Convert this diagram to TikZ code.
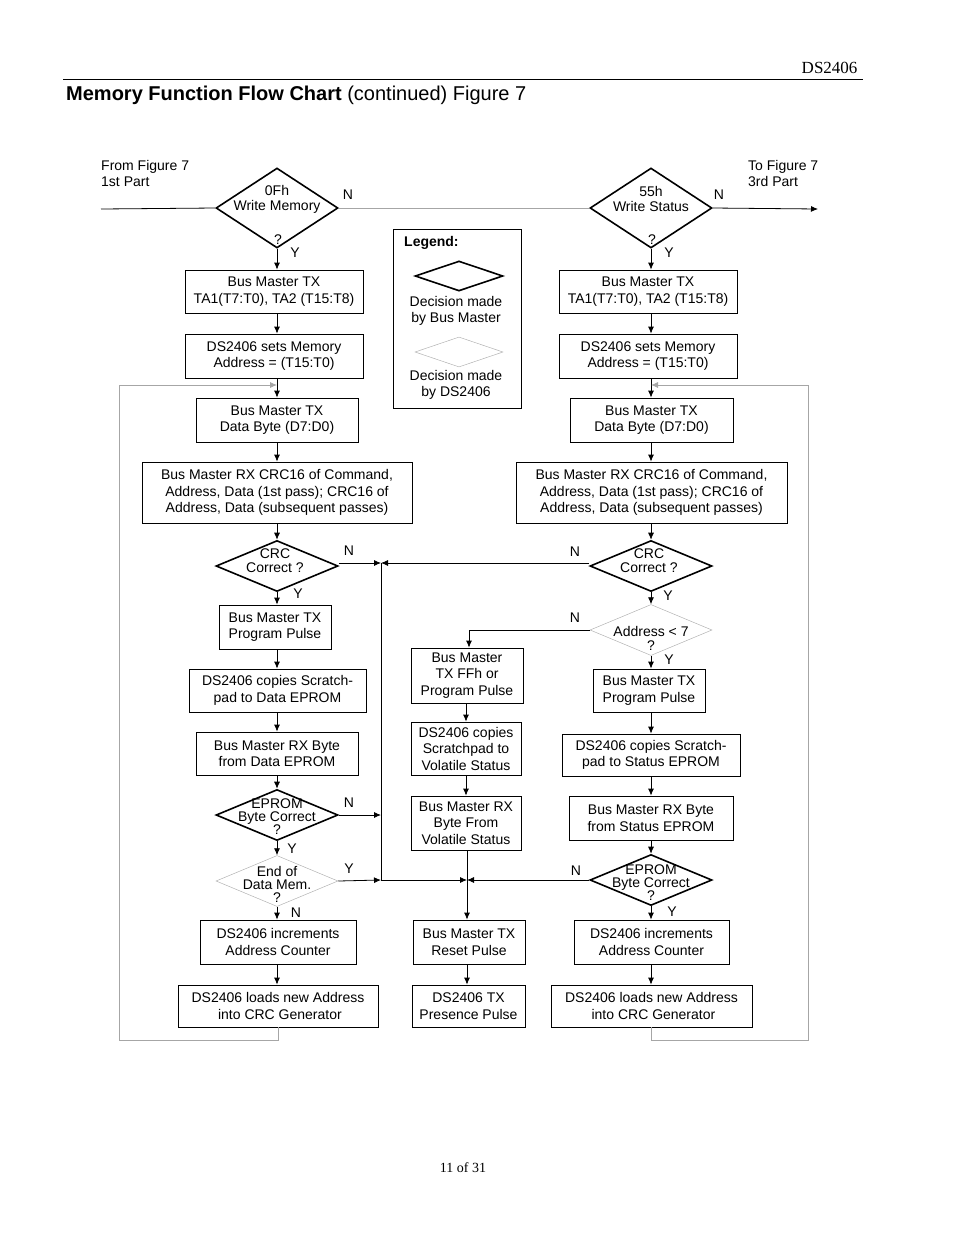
\documentclass[tikz,border=0pt]{standalone}
\usepackage{fontspec}
\setmainfont{Liberation Sans}
\newfontfamily\serifpage{Liberation Serif}
\usetikzlibrary{shapes.geometric,arrows.meta}

\tikzset{
  box/.style={draw, rectangle, line width=0.8pt, align=center, inner sep=1pt,
    font=\fontsize{14}{16.5}\selectfont},
  dec/.style={draw, diamond, line width=1.6pt, inner sep=0pt,
    minimum width=122pt, minimum height=51pt},
  dsdec/.style={dec, line width=0.5pt, draw=gray!60},
  dtext/.style={align=center, inner sep=0pt, font=\fontsize{14}{13}\selectfont},
  lab/.style={inner sep=0pt, font=\fontsize{14}{16}\selectfont},
  arr/.style={-{Latex[length=7pt,width=6pt]}, line width=0.8pt},
  loop/.style={line width=0.6pt, draw=gray!70},
}

\begin{document}
\begin{tikzpicture}[x=1pt, y=-1pt]
\useasboundingbox (0,0) rectangle (954,1235);

% page header and footer
\node[anchor=base east, font=\serifpage\fontsize{17}{20}\selectfont] (hdr) at (861,73) {DS2406};
\draw[line width=0.6pt] (63,79) -- (863,79);
\node[anchor=base west, inner sep=0pt, font=\fontsize{20}{24}\selectfont] (title) at (66,100)
  {\textbf{Memory Function Flow Chart} (continued) Figure 7};
\node[font=\serifpage\fontsize{14}{16}\selectfont] (pg) at (463,1168) {11 of 31};

% entry / exit texts
\node[lab, anchor=north west, align=left] (from) at (101,160) {From Figure 7\\1st Part};
\node[lab, anchor=north west, align=left] (to) at (748,160) {To Figure 7\\3rd Part};
\coordinate (in) at (101,209);
\coordinate (out) at (818,209);

% left column: write memory
\node[dec, minimum height=80pt] (wm) at (277,208) {};
\node[dtext] at (277,199) {0Fh\\[2pt]Write Memory};
\node[dtext] at (278,240) {?};
\node[box, minimum width=178pt, minimum height=43pt] (tx1) at (274,291.5) {Bus Master TX\\TA1(T7:T0), TA2 (T15:T8)};
\node[box, minimum width=178pt, minimum height=44pt] (set1) at (274,356) {DS2406 sets Memory\\Address = (T15:T0)};
\node[box, minimum width=162pt, minimum height=44pt] (dat1) at (277,420) {Bus Master TX\\Data Byte (D7:D0)};
\node[box, minimum width=270pt, minimum height=61pt] (rc1) at (277,492.5) {Bus Master RX CRC16 of Command,\\Address, Data (1st pass); CRC16 of\\Address, Data (subsequent passes)};
\node[dec] (crc1) at (277,566) {};
\node[dtext] at (275,561) {CRC\\[1pt]Correct ?};
\node[box, minimum width=112pt, minimum height=44pt] (pp1) at (275,627) {Bus Master TX\\Program Pulse};
\node[box, minimum width=177pt, minimum height=43pt] (cp1) at (277.5,690.5) {DS2406 copies Scratch-\\pad to Data EPROM};
\node[box, minimum width=162pt, minimum height=43pt] (rb1) at (277,753.5) {Bus Master RX Byte\\from Data EPROM};
\node[dec] (ep1) at (277,815) {};
\node[dtext] at (277,817) {EPROM\\Byte Correct\\?};
\node[dsdec] (end1) at (277,881) {};
\node[dtext] at (277,884) {End of\\Data Mem.\\?};
\node[box, minimum width=156pt, minimum height=44pt] (inc1) at (278,942) {DS2406 increments\\Address Counter};
\node[box, minimum width=200pt, minimum height=42pt] (ld1) at (278,1006) {DS2406 loads new Address\\\ into CRC Generator};

% legend
\node[draw, line width=0.8pt, minimum width=128pt, minimum height=179pt] (leg) at (457,318.5) {};
\node[lab, anchor=west, font=\bfseries\fontsize{14}{16}\selectfont] at (404,243) {Legend:};
\node[dec, minimum width=88pt, minimum height=30pt] (lgb) at (459,276) {};
\node[lab, align=center] at (456,311) {Decision made\\by Bus Master};
\node[dsdec, minimum width=88pt, minimum height=30pt] (lgg) at (459,352) {};
\node[lab, align=center] at (456,385) {Decision made\\by DS2406};

% right column: write status
\node[dec, minimum height=80pt] (ws) at (651,208) {};
\node[dtext] at (651,199) {55h\\[2pt]Write Status};
\node[dtext] at (652,240) {?};
\node[box, minimum width=178pt, minimum height=43pt] (tx2) at (648,291.5) {Bus Master TX\\TA1(T7:T0), TA2 (T15:T8)};
\node[box, minimum width=178pt, minimum height=44pt] (set2) at (648,356) {DS2406 sets Memory\\Address = (T15:T0)};
\node[box, minimum width=163pt, minimum height=44pt] (dat2) at (651.5,420) {Bus Master TX\\Data Byte (D7:D0)};
\node[box, minimum width=271pt, minimum height=61pt] (rc2) at (651.5,492.5) {Bus Master RX CRC16 of Command,\\Address, Data (1st pass); CRC16 of\\Address, Data (subsequent passes)};
\node[dec] (crc2) at (651,566) {};
\node[dtext] at (649,561) {CRC\\[1pt]Correct ?};
\node[dsdec] (adr) at (651,630) {};
\node[dtext] at (651,638) {Address < 7\\[1pt]?};
\node[box, minimum width=112pt, minimum height=43pt] (pp2) at (649,690.5) {Bus Master TX\\Program Pulse};
\node[box, minimum width=178pt, minimum height=42pt] (cp2) at (651,755) {DS2406 copies Scratch-\\pad to Status EPROM};
\node[box, minimum width=164pt, minimum height=44pt] (rb2) at (651,818) {Bus Master RX Byte\\from Status EPROM};
\node[dec] (ep2) at (651,880) {};
\node[dtext] at (651,883) {EPROM\\Byte Correct\\?};
\node[box, minimum width=155pt, minimum height=44pt] (inc2) at (651.5,942) {DS2406 increments\\Address Counter};
\node[box, minimum width=201pt, minimum height=42pt] (ld2) at (651.5,1006) {DS2406 loads new Address\\\ into CRC Generator};

% middle column
\node[box, minimum width=112pt, minimum height=55pt] (ff) at (467,675.5) {Bus Master\\TX FFh or\\Program Pulse};
\node[box, minimum width=110pt, minimum height=53pt] (cpm) at (466,748.5) {DS2406 copies\\Scratchpad to\\Volatile Status};
\node[box, minimum width=110pt, minimum height=54pt] (rbm) at (466,823) {Bus Master RX\\Byte From\\Volatile Status};
\node[box, minimum width=112pt, minimum height=44pt] (rst) at (469,942) {Bus Master TX\\Reset Pulse};
\node[box, minimum width=113pt, minimum height=42pt] (prs) at (468.5,1006) {DS2406 TX\\Presence Pulse};

% junction points
\coordinate (jt) at (381,563);
\coordinate (je) at (381,815);
\coordinate (jb) at (381,880);
\coordinate (jm) at (467,880);
\coordinate (ret1) at (277,385);
\coordinate (ret2) at (651,385);
\coordinate (lp1) at (119,1040);
\coordinate (lp2) at (808,1040);

% top line
\draw[line width=0.8pt] (in) -- (wm.west);
\draw[loop] (wm.east) -- (ws.west);
\draw[arr] (ws.east) -- (out);

% left flow
\draw[arr] (wm.south) -- (tx1.north -| wm.south);
\draw[arr] (tx1.south -| wm.south) -- (set1.north -| wm.south);
\draw[arr] (set1.south -| wm.south) -- (dat1.north -| wm.south);
\draw[arr] (dat1) -- (rc1);
\draw[arr] (rc1) -- (crc1);
\draw[arr] (crc1.south) -- (pp1.north -| crc1.south);
\draw[arr] (pp1.south -| crc1.south) -- (cp1.north -| crc1.south);
\draw[arr] (cp1.south -| crc1.south) -- (rb1.north -| crc1.south);
\draw[arr] (rb1.south -| crc1.south) -- (ep1.north);
\draw[arr] (ep1.south) -- (end1.north);
\draw[arr] (end1.south) -- (inc1.north -| end1.south);
\draw[arr] (inc1.south -| end1.south) -- (ld1.north -| end1.south);

% right flow
\draw[arr] (ws.south) -- (tx2.north -| ws.south);
\draw[arr] (tx2.south -| ws.south) -- (set2.north -| ws.south);
\draw[arr] (set2.south -| ws.south) -- (dat2.north -| ws.south);
\draw[arr] (dat2.south -| ws.south) -- (rc2.north -| ws.south);
\draw[arr] (rc2.south -| ws.south) -- (crc2.north);
\draw[arr] (crc2.south) -- (adr.north);
\draw[arr] (adr.south) -- (pp2.north -| adr.south);
\draw[arr] (pp2.south -| adr.south) -- (cp2.north -| adr.south);
\draw[arr] (cp2.south -| adr.south) -- (rb2.north -| adr.south);
\draw[arr] (rb2.south -| adr.south) -- (ep2.north);
\draw[arr] (ep2.south) -- (inc2.north -| ep2.south);
\draw[arr] (inc2.south -| ep2.south) -- (ld2.north -| ep2.south);

% middle flow
\draw[arr] (adr.west) -| (ff.north -| 469,0);
\draw[arr] (ff.south -| cpm.north) -- (cpm.north);
\draw[arr] (cpm) -- (rbm);
\draw[arr] (rbm.south -| jm) -- (rst.north -| jm);
\draw[arr] (rst.south -| jm) -- (prs.north -| jm);

% failure paths
\draw[arr] (crc1.east |- jt) -- (jt);
\draw[arr] (crc2.west |- jt) -- (jt);
\draw[line width=0.8pt] (jt) -- (jb);
\draw[arr] (ep1.east) -- (je);
\draw[arr] (end1.east) -- (jb);
\draw[arr] (jb) -- (jm);
\draw[arr] (ep2.west) -- (jm);

% loop back paths
\draw[loop, arr, draw=gray!70] (ld1.south) |- (lp1) |- (ret1);
\draw[loop, arr, draw=gray!70] (ld2.south) |- (lp2) |- (ret2);

% Y / N labels
\node[lab] at (348,195) {N};
\node[lab] at (295,253) {Y};
\node[lab] at (719,195) {N};
\node[lab] at (669,253) {Y};
\node[lab] at (349,551) {N};
\node[lab] at (298,594) {Y};
\node[lab] at (575,552) {N};
\node[lab] at (668,596) {Y};
\node[lab] at (575,618) {N};
\node[lab] at (669,660) {Y};
\node[lab] at (349,803) {N};
\node[lab] at (292,849) {Y};
\node[lab] at (349,869) {Y};
\node[lab] at (296,913) {N};
\node[lab] at (576,871) {N};
\node[lab] at (672,912) {Y};
\end{tikzpicture}
\end{document}
